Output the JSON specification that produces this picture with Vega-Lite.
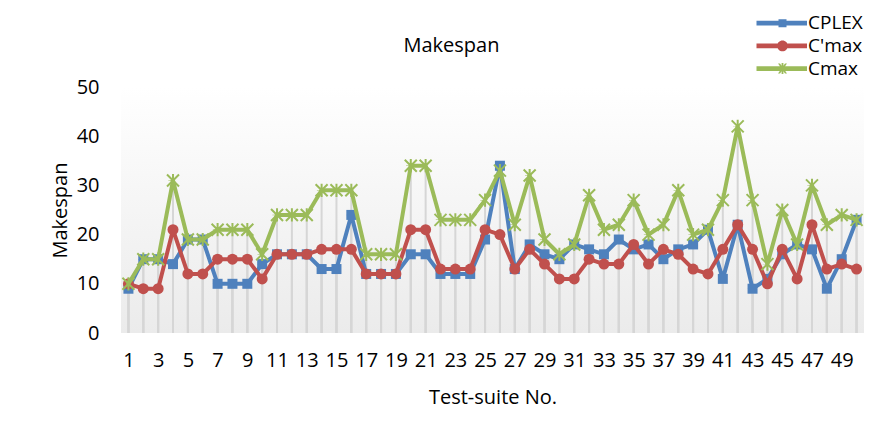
{
  "$schema": "https://vega.github.io/schema/vega-lite/v6.json",
  "autosize": {"type": "none"},
  "padding": {"left": 121, "top": 87, "right": 18, "bottom": 106},
  "width": 743,
  "height": 246,
  "background": "#ffffff",
  "config": {
    "font": "Open Sans",
    "view": {"stroke": null, "fill": {"gradient": "linear", "x1": 0, "y1": 0, "x2": 0, "y2": 1, "stops": [{"offset": 0, "color": "#ffffff"}, {"offset": 1, "color": "#ebebeb"}]}}
  },
  "title": {"text": "Makespan", "anchor": "middle", "dx": -41, "dy": 84.3, "offset": 26, "baseline": "alphabetic", "fontSize": 20, "font": "Open Sans", "fontWeight": "normal", "color": "#000000"},
  "data": {"values": [
    {"suite":1,"series":"CPLEX","value":9},{"suite":2,"series":"CPLEX","value":15},{"suite":3,"series":"CPLEX","value":15},{"suite":4,"series":"CPLEX","value":14},{"suite":5,"series":"CPLEX","value":19},
    {"suite":6,"series":"CPLEX","value":19},{"suite":7,"series":"CPLEX","value":10},{"suite":8,"series":"CPLEX","value":10},{"suite":9,"series":"CPLEX","value":10},{"suite":10,"series":"CPLEX","value":14},
    {"suite":11,"series":"CPLEX","value":16},{"suite":12,"series":"CPLEX","value":16},{"suite":13,"series":"CPLEX","value":16},{"suite":14,"series":"CPLEX","value":13},{"suite":15,"series":"CPLEX","value":13},
    {"suite":16,"series":"CPLEX","value":24},{"suite":17,"series":"CPLEX","value":12},{"suite":18,"series":"CPLEX","value":12},{"suite":19,"series":"CPLEX","value":12},{"suite":20,"series":"CPLEX","value":16},
    {"suite":21,"series":"CPLEX","value":16},{"suite":22,"series":"CPLEX","value":12},{"suite":23,"series":"CPLEX","value":12},{"suite":24,"series":"CPLEX","value":12},{"suite":25,"series":"CPLEX","value":19},
    {"suite":26,"series":"CPLEX","value":34},{"suite":27,"series":"CPLEX","value":13},{"suite":28,"series":"CPLEX","value":18},{"suite":29,"series":"CPLEX","value":16},{"suite":30,"series":"CPLEX","value":15},
    {"suite":31,"series":"CPLEX","value":18},{"suite":32,"series":"CPLEX","value":17},{"suite":33,"series":"CPLEX","value":16},{"suite":34,"series":"CPLEX","value":19},{"suite":35,"series":"CPLEX","value":17},
    {"suite":36,"series":"CPLEX","value":18},{"suite":37,"series":"CPLEX","value":15},{"suite":38,"series":"CPLEX","value":17},{"suite":39,"series":"CPLEX","value":18},{"suite":40,"series":"CPLEX","value":21},
    {"suite":41,"series":"CPLEX","value":11},{"suite":42,"series":"CPLEX","value":22},{"suite":43,"series":"CPLEX","value":9},{"suite":44,"series":"CPLEX","value":11},{"suite":45,"series":"CPLEX","value":16},
    {"suite":46,"series":"CPLEX","value":18},{"suite":47,"series":"CPLEX","value":17},{"suite":48,"series":"CPLEX","value":9},{"suite":49,"series":"CPLEX","value":15},{"suite":50,"series":"CPLEX","value":23},
    {"suite":1,"series":"C'max","value":10},{"suite":2,"series":"C'max","value":9},{"suite":3,"series":"C'max","value":9},{"suite":4,"series":"C'max","value":21},{"suite":5,"series":"C'max","value":12},
    {"suite":6,"series":"C'max","value":12},{"suite":7,"series":"C'max","value":15},{"suite":8,"series":"C'max","value":15},{"suite":9,"series":"C'max","value":15},{"suite":10,"series":"C'max","value":11},
    {"suite":11,"series":"C'max","value":16},{"suite":12,"series":"C'max","value":16},{"suite":13,"series":"C'max","value":16},{"suite":14,"series":"C'max","value":17},{"suite":15,"series":"C'max","value":17},
    {"suite":16,"series":"C'max","value":17},{"suite":17,"series":"C'max","value":12},{"suite":18,"series":"C'max","value":12},{"suite":19,"series":"C'max","value":12},{"suite":20,"series":"C'max","value":21},
    {"suite":21,"series":"C'max","value":21},{"suite":22,"series":"C'max","value":13},{"suite":23,"series":"C'max","value":13},{"suite":24,"series":"C'max","value":13},{"suite":25,"series":"C'max","value":21},
    {"suite":26,"series":"C'max","value":20},{"suite":27,"series":"C'max","value":13},{"suite":28,"series":"C'max","value":17},{"suite":29,"series":"C'max","value":14},{"suite":30,"series":"C'max","value":11},
    {"suite":31,"series":"C'max","value":11},{"suite":32,"series":"C'max","value":15},{"suite":33,"series":"C'max","value":14},{"suite":34,"series":"C'max","value":14},{"suite":35,"series":"C'max","value":18},
    {"suite":36,"series":"C'max","value":14},{"suite":37,"series":"C'max","value":17},{"suite":38,"series":"C'max","value":16},{"suite":39,"series":"C'max","value":13},{"suite":40,"series":"C'max","value":12},
    {"suite":41,"series":"C'max","value":17},{"suite":42,"series":"C'max","value":22},{"suite":43,"series":"C'max","value":17},{"suite":44,"series":"C'max","value":10},{"suite":45,"series":"C'max","value":17},
    {"suite":46,"series":"C'max","value":11},{"suite":47,"series":"C'max","value":22},{"suite":48,"series":"C'max","value":13},{"suite":49,"series":"C'max","value":14},{"suite":50,"series":"C'max","value":13},
    {"suite":1,"series":"Cmax","value":10},{"suite":2,"series":"Cmax","value":15},{"suite":3,"series":"Cmax","value":15},{"suite":4,"series":"Cmax","value":31},{"suite":5,"series":"Cmax","value":19},
    {"suite":6,"series":"Cmax","value":19},{"suite":7,"series":"Cmax","value":21},{"suite":8,"series":"Cmax","value":21},{"suite":9,"series":"Cmax","value":21},{"suite":10,"series":"Cmax","value":16},
    {"suite":11,"series":"Cmax","value":24},{"suite":12,"series":"Cmax","value":24},{"suite":13,"series":"Cmax","value":24},{"suite":14,"series":"Cmax","value":29},{"suite":15,"series":"Cmax","value":29},
    {"suite":16,"series":"Cmax","value":29},{"suite":17,"series":"Cmax","value":16},{"suite":18,"series":"Cmax","value":16},{"suite":19,"series":"Cmax","value":16},{"suite":20,"series":"Cmax","value":34},
    {"suite":21,"series":"Cmax","value":34},{"suite":22,"series":"Cmax","value":23},{"suite":23,"series":"Cmax","value":23},{"suite":24,"series":"Cmax","value":23},{"suite":25,"series":"Cmax","value":27},
    {"suite":26,"series":"Cmax","value":33},{"suite":27,"series":"Cmax","value":22},{"suite":28,"series":"Cmax","value":32},{"suite":29,"series":"Cmax","value":19},{"suite":30,"series":"Cmax","value":16},
    {"suite":31,"series":"Cmax","value":18},{"suite":32,"series":"Cmax","value":28},{"suite":33,"series":"Cmax","value":21},{"suite":34,"series":"Cmax","value":22},{"suite":35,"series":"Cmax","value":27},
    {"suite":36,"series":"Cmax","value":20},{"suite":37,"series":"Cmax","value":22},{"suite":38,"series":"Cmax","value":29},{"suite":39,"series":"Cmax","value":20},{"suite":40,"series":"Cmax","value":21},
    {"suite":41,"series":"Cmax","value":27},{"suite":42,"series":"Cmax","value":42},{"suite":43,"series":"Cmax","value":27},{"suite":44,"series":"Cmax","value":14},{"suite":45,"series":"Cmax","value":25},
    {"suite":46,"series":"Cmax","value":18},{"suite":47,"series":"Cmax","value":30},{"suite":48,"series":"Cmax","value":22},{"suite":49,"series":"Cmax","value":24},{"suite":50,"series":"Cmax","value":23}
  ]},
  "encoding": {
    "x": {"field": "suite", "type": "quantitative",
      "scale": {"domain": [0.5, 50.5], "nice": false, "zero": false},
      "axis": {"title": "Test-suite  No.", "values": [1,3,5,7,9,11,13,15,17,19,21,23,25,27,29,31,33,35,37,39,41,43,45,47,49],
        "grid": false, "domain": false, "ticks": false, "labelPadding": 17, "labelFontSize": 20, "labelColor": "#000000", "labelFont": "Open Sans",
        "titleFontSize": 20, "titleFont": "Open Sans", "titleFontWeight": "normal", "titleColor": "#000000", "titleY": 70, "titleBaseline": "alphabetic"}},
    "y": {"field": "value", "type": "quantitative",
      "scale": {"domain": [0, 50], "nice": false},
      "axis": {"title": "Makespan", "values": [0,10,20,30,40,50], "grid": false, "domain": false, "ticks": false,
        "labelPadding": 22, "labelFontSize": 20, "labelColor": "#000000", "labelFont": "Open Sans",
        "titleFontSize": 20, "titleFont": "Open Sans", "titleFontWeight": "normal", "titleColor": "#000000", "titleX": -55, "titleBaseline": "alphabetic"}}
  },
  "layer": [
    {"mark": {"type": "rule", "color": "#d6d6d6", "strokeWidth": 2}, "encoding": {"y2": {"datum": 0}}},
    {"mark": {"type": "point", "filled": true, "opacity": 1, "strokeWidth": 0, "size": 1},
      "encoding": {
        "color": {"field": "series", "type": "nominal", "scale": {"domain": ["CPLEX", "C'max", "Cmax"], "range": ["#4F81BD", "#C0504D", "#9BBB59"]},
          "legend": {"orient": "none", "legendX": 673, "legendY": -73.3, "title": null, "padding": 0, "symbolSize": 100, "symbolStrokeWidth": 0, "symbolOpacity": 1,
            "rowPadding": 2.7, "labelFontSize": 19, "labelFont": "Open Sans", "labelColor": "#000000", "labelOffset": -5, "labelLimit": 200}},
        "shape": {"field": "series", "type": "nominal", "scale": {"domain": ["CPLEX", "C'max", "Cmax"], "range": [
          "M-9.4,-0.47H0.7V0.47H-9.4Z M-5,-0.8H-3.4V0.8H-5Z",
          "M-9.4,-0.47H0.7V0.47H-9.4Z M-5.26,0A1.06,1.06 0 1,1 -3.14,0A1.06,1.06 0 1,1 -5.26,0Z",
          "M-9.4,-0.47H0.7V0.47H-9.4Z M-5.1,-1L-4.7,-1L-3.3,1L-3.7,1Z M-3.7,-1L-3.3,-1L-4.7,1L-5.1,1Z M-4.38,-1.1H-4.02V1.1H-4.38Z"]}}
      }},
    {"transform": [{"filter": {"field": "series", "equal": "CPLEX"}}], "mark": {"type": "line", "color": "#4F81BD", "strokeWidth": 4, "strokeJoin": "round", "strokeCap": "round"}},
    {"transform": [{"filter": {"field": "series", "equal": "CPLEX"}}], "mark": {"type": "point", "shape": "square", "filled": true, "opacity": 1, "color": "#4F81BD", "size": 100}},
    {"transform": [{"filter": {"field": "series", "equal": "C'max"}}], "mark": {"type": "line", "color": "#C0504D", "strokeWidth": 4, "strokeJoin": "round", "strokeCap": "round"}},
    {"transform": [{"filter": {"field": "series", "equal": "C'max"}}], "mark": {"type": "point", "shape": "circle", "filled": true, "opacity": 1, "color": "#C0504D", "size": 121}},
    {"transform": [{"filter": {"field": "series", "equal": "Cmax"}}], "mark": {"type": "line", "color": "#9BBB59", "strokeWidth": 4, "strokeJoin": "round", "strokeCap": "round"}},
    {"transform": [{"filter": {"field": "series", "equal": "Cmax"}}], "mark": {"type": "point", "shape": "M-1,-1L1,1M-1,1L1,-1M0,-1.1V1.1", "filled": false, "opacity": 1, "color": "#9BBB59", "strokeWidth": 2, "size": 144}}
  ]
}
